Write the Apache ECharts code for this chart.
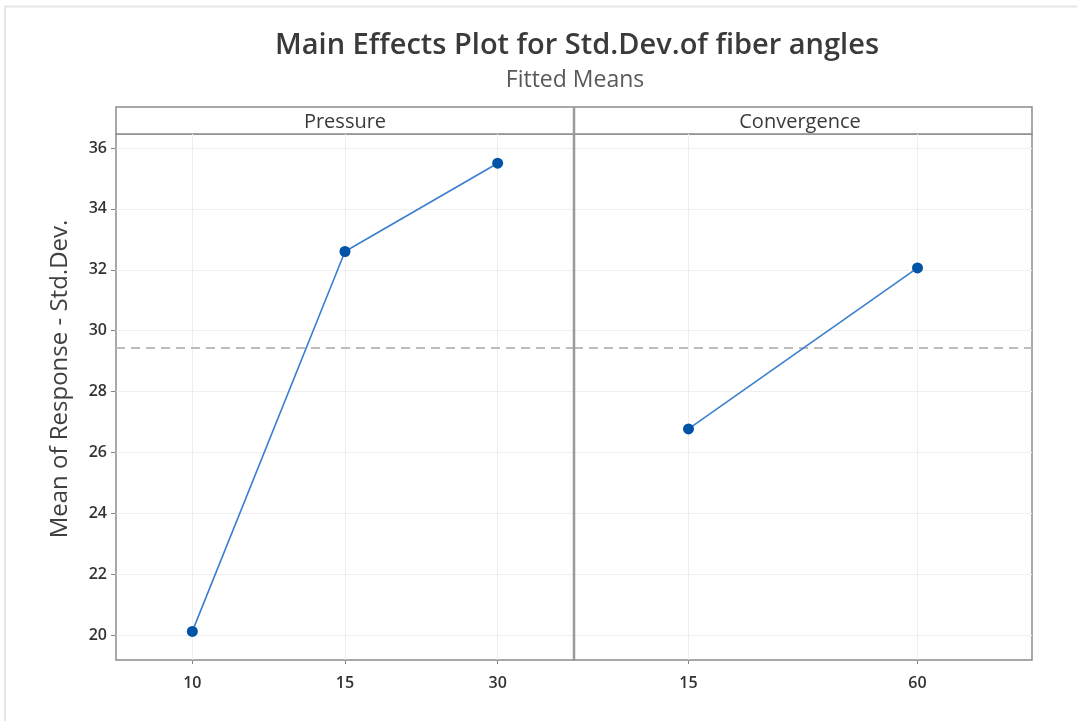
<!DOCTYPE html>
<html>
<head>
<meta charset="utf-8">
<script src="https://cdn.jsdelivr.net/npm/echarts@6/dist/echarts.min.js"></script>
<style>
  html, body { margin: 0; padding: 0; background: #fff; }
  #chart { width: 1077px; height: 721px; }
</style>
</head>
<body>
<div id="chart"></div>
<script>
  // data
  var pressureLevels = ['10', '15', '30'];
  var pressureMeans = [20.12, 32.6, 35.5];
  var convergenceLevels = ['15', '60'];
  var convergenceMeans = [26.77, 32.06];
  var grandMean = 29.43;
  var yTicks = [20, 22, 24, 26, 28, 30, 32, 34, 36];
  var yMin = 19.18, yMax = 36.46;

  var font = '"Open Sans", "Noto Sans", sans-serif';
  var chart = echarts.init(document.getElementById('chart'));

  function vGrid(levels) {
    return levels.map(function (c) {
      return { xAxis: c, lineStyle: { color: '#eeeeee', width: 1, type: 'solid' } };
    });
  }

  function panelSeries(levels, values, idx) {
    return {
      type: 'line',
      xAxisIndex: idx,
      yAxisIndex: idx,
      data: values,
      symbol: 'circle',
      symbolSize: 11,
      itemStyle: { color: '#0053a6' },
      lineStyle: { color: '#3a7fcf', width: 1.6 },
      z: 5,
      markLine: {
        silent: true,
        symbol: ['none', 'none'],
        label: { show: false },
        animation: false,
        z: 1,
        data: vGrid(levels).concat([
          { yAxis: grandMean, lineStyle: { color: '#bdbdbd', width: 2, type: [9, 6] } }
        ])
      }
    };
  }

  function yAxis(idx, showLabels) {
    return {
      type: 'value',
      gridIndex: idx,
      min: yMin,
      max: yMax,
      axisLine: { show: false },
      axisTick: { show: showLabels, length: 5, customValues: yTicks, lineStyle: { color: '#888' } },
      axisLabel: {
        show: showLabels, customValues: yTicks, margin: 9,
        fontFamily: font, fontSize: 16, fontWeight: 600, color: '#333'
      },
      splitLine: { show: true, lineStyle: { color: '#efefef', width: 1 } },
      name: showLabels ? 'Mean of Response - Std.Dev.' : '',
      nameLocation: 'middle',
      nameGap: 44,
      nameTextStyle: { fontFamily: font, fontSize: 24, color: '#404040', padding: [0, 0, 0, 36] }
    };
  }

  function xAxis(idx, levels) {
    return {
      type: 'category',
      gridIndex: idx,
      data: levels,
      boundaryGap: true,
      axisLine: { show: false },
      axisTick: { show: true, alignWithLabel: true, length: 4, lineStyle: { color: '#888' } },
      axisLabel: { margin: 15, fontFamily: font, fontSize: 16, fontWeight: 600, color: '#333' },
      splitLine: { show: false }
    };
  }

  chart.setOption({
    backgroundColor: '#ffffff',
    animation: false,
    title: [
      {
        text: 'Main Effects Plot for Std.Dev.of fiber angles',
        left: 572, top: 26, textAlign: 'center',
        textStyle: { fontFamily: font, fontSize: 29, fontWeight: 600, color: '#3a3a3a' }
      },
      {
        text: 'Fitted Means',
        left: 570, top: 64, textAlign: 'center',
        textStyle: { fontFamily: font, fontSize: 23, fontWeight: 'normal', color: '#595959' }
      }
    ],
    grid: [
      { left: 116, top: 134, width: 458, height: 526, show: true, borderColor: '#8c8c8c', borderWidth: 1.5 },
      { left: 574, top: 134, width: 458, height: 526, show: true, borderColor: '#8c8c8c', borderWidth: 1.5 }
    ],
    xAxis: [xAxis(0, pressureLevels), xAxis(1, convergenceLevels)],
    yAxis: [yAxis(0, true), yAxis(1, false)],
    series: [
      panelSeries(pressureLevels, pressureMeans, 0),
      panelSeries(convergenceLevels, convergenceMeans, 1)
    ],
    graphic: [
      // outer picture border
      { type: 'line', shape: { x1: 4, y1: 6.5, x2: 1077, y2: 6.5 }, style: { stroke: '#e6e6e6', lineWidth: 2 } },
      { type: 'line', shape: { x1: 5, y1: 6, x2: 5, y2: 721 }, style: { stroke: '#e6e6e6', lineWidth: 2 } },
      // panel strips
      { type: 'rect', shape: { x: 116, y: 107, width: 916, height: 27 }, style: { fill: '#fff', stroke: '#8c8c8c', lineWidth: 1.5 } },
      { type: 'line', shape: { x1: 574, y1: 107, x2: 574, y2: 660 }, style: { stroke: '#9a9a9a', lineWidth: 2.5 }, z: 10 },
      {
        type: 'text', x: 345, y: 122,
        style: { text: 'Pressure', fontFamily: font, fontSize: 20, fill: '#3a3a3a', align: 'center', verticalAlign: 'middle' }
      },
      {
        type: 'text', x: 800, y: 122,
        style: { text: 'Convergence', fontFamily: font, fontSize: 20, fill: '#3a3a3a', align: 'center', verticalAlign: 'middle' }
      }
    ]
  });
</script>
</body>
</html>
